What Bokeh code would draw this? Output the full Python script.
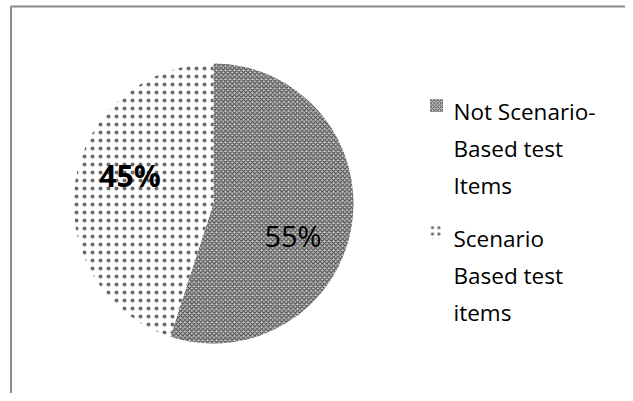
from bokeh.plotting import figure
from bokeh.models import Range1d
from bokeh.core.properties import value
from bokeh.embed import file_html
from bokeh.resources import INLINE
import math

# ---- data ----
categories = ["Not Scenario-Based test Items", "Scenario Based test items"]
shares = [55, 45]
pct_labels = ["55%", "45%"]
legend_lines = [["Not Scenario-", "Based test", "Items"],
                ["Scenario", "Based test", "items"]]

# ---- styles ----
fills = ["#c4c4c4", "white"]
hatches = ["diagonal_cross", "dot"]
hatch_colors = ["#3c3c3c", "#6a6a6a"]
hatch_scales = [4.5, 8]
hatch_weights = [1.1, 1.3]
label_bold = ["normal", "bold"]
label_sizes = ["29px", "30px"]
FONT = "Open Sans"

W, H = 625, 393
p = figure(width=W, height=H, output_backend="svg", toolbar_location=None,
           x_range=Range1d(0, W), y_range=Range1d(0, H),
           min_border=0)
p.axis.visible = False
p.grid.visible = False
p.outline_line_color = None
p.background_fill_color = "white"
p.border_fill_color = "white"

def Y(py):
    return H - py

cx, cy, r = 213, Y(203), 140
total = sum(shares)
start = math.pi / 2
label_pos = [(292.5, 235), (129.5, 175)]
for i, s in enumerate(shares):
    end = start - 2 * math.pi * s / total
    p.wedge(x=cx, y=cy, radius=r, start_angle=end, end_angle=start,
            fill_color=fills[i], hatch_pattern=hatches[i], hatch_color=hatch_colors[i],
            hatch_scale=hatch_scales[i], hatch_weight=hatch_weights[i],
            line_color=None)
    start = end

for i, lab in enumerate(pct_labels):
    lx, ly = label_pos[i]
    p.text(x=[lx], y=[Y(ly)], text=[lab], text_font=value(FONT), text_font_size=label_sizes[i],
           text_font_style=label_bold[i], text_align="center", text_baseline="middle",
           text_color="black")

# legend
marker_pos = [(436, 105), (434, 232)]
baselines = [[111, 148, 185], [238, 275, 312]]
for i, lines in enumerate(legend_lines):
    mx, my = marker_pos[i]
    p.rect(x=[mx], y=[Y(my)], width=13, height=13, fill_color=fills[i],
           hatch_pattern=hatches[i], hatch_color=hatch_colors[i],
           hatch_scale=hatch_scales[i] * 0.8, hatch_weight=hatch_weights[i] * 0.8,
           line_color=None)
    for j, t in enumerate(lines):
        p.text(x=[453], y=[Y(baselines[i][j])], text=[t], text_font=value(FONT),
               text_font_size="22.5px", text_align="left", text_baseline="alphabetic",
               text_color="black")

# chart frame (top and left edges visible)
p.line(x=[10, W], y=[Y(6), Y(6)], line_color="#8a8a8a", line_width=2)
p.line(x=[10.5, 10.5], y=[Y(6), 0], line_color="#8a8a8a", line_width=2)

open("out.html", "w").write(file_html(p, INLINE))
